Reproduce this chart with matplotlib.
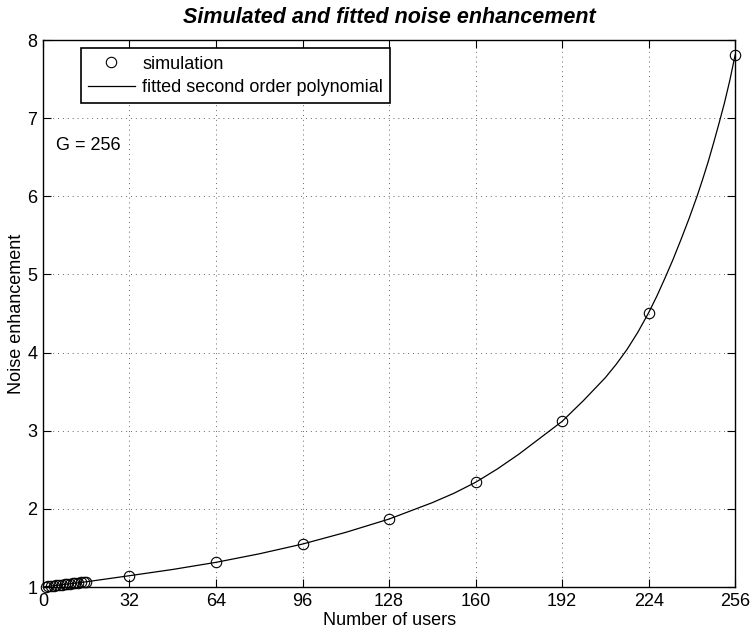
# Noise enhancement chart - simulated points and fitted curve
import matplotlib.pyplot as plt

plt.rcParams["font.family"] = ["Liberation Sans", "DejaVu Sans"]

# simulated points
sim_users = [1, 2, 3, 4, 5, 6, 7, 8, 9, 10, 11, 12, 13, 14, 15, 16,
             32, 64, 96, 128, 160, 192, 224, 256]
sim_noise = [1.004, 1.008, 1.013, 1.017, 1.021, 1.025, 1.029, 1.034, 1.038, 1.042,
             1.046, 1.050, 1.055, 1.059, 1.063, 1.067,
             1.145, 1.316, 1.55, 1.87, 2.34, 3.12, 4.51, 7.81]

# fitted curve
fit_users = [0, 16, 32, 48, 64, 80, 96, 112, 128, 144, 152, 160, 168, 176, 184, 192,
             200, 208, 212, 216, 220, 224, 227, 230, 233, 236, 239, 242, 244, 246,
             248, 250, 252, 254, 256]
fit_noise = [1.0, 1.067, 1.145, 1.225, 1.316, 1.425, 1.55, 1.70, 1.87, 2.08, 2.20,
             2.34, 2.51, 2.70, 2.91, 3.12, 3.39, 3.68, 3.85, 4.04, 4.26, 4.51, 4.72,
             4.95, 5.19, 5.45, 5.72, 6.01, 6.22, 6.44, 6.68, 6.93, 7.19, 7.48, 7.81]

x_ticks = [0, 32, 64, 96, 128, 160, 192, 224, 256]
y_ticks = [1, 2, 3, 4, 5, 6, 7, 8]

fig = plt.figure(figsize=(7.54, 6.36), dpi=100)
ax = fig.add_axes([0.057, 0.077, 0.918, 0.860])

ax.plot(sim_users, sim_noise, "o", color="black", markerfacecolor="none",
        markersize=7.5, markeredgewidth=0.8, label="simulation", clip_on=False, zorder=3)
ax.plot(fit_users, fit_noise, "-", color="black", linewidth=0.9,
        label="fitted second order polynomial", zorder=2)

ax.set_xlim(0, 256)
ax.set_ylim(1, 8)
ax.set_xticks(x_ticks)
ax.set_yticks(y_ticks)
ax.tick_params(direction="in", top=True, right=True, labelsize=13, length=6, width=0.8, pad=4)
ax.grid(True, linestyle=(0, (1, 4)), color="#666666", linewidth=0.7)
for s in ax.spines.values():
    s.set_linewidth(1.0)

ax.set_xlabel("Number of users", fontsize=13, labelpad=2)
ax.set_ylabel("Noise enhancement", fontsize=13, labelpad=2)
ax.set_title("Simulated and fitted noise enhancement", fontsize=15.5,
             fontweight="bold", fontstyle="italic", pad=12)

ax.text(5, 6.65, "G = 256", fontsize=13, ha="left", va="center")

leg = ax.legend(loc="upper left", bbox_to_anchor=(0.107, 0.924),
                bbox_transform=fig.transFigure, fancybox=False, framealpha=1,
                edgecolor="black", fontsize=13, handlelength=2.6, borderpad=0.4,
                labelspacing=0.35, handletextpad=0.4, borderaxespad=0)
leg.get_frame().set_linewidth(1.2)

fig.savefig("out.png", dpi=100)
